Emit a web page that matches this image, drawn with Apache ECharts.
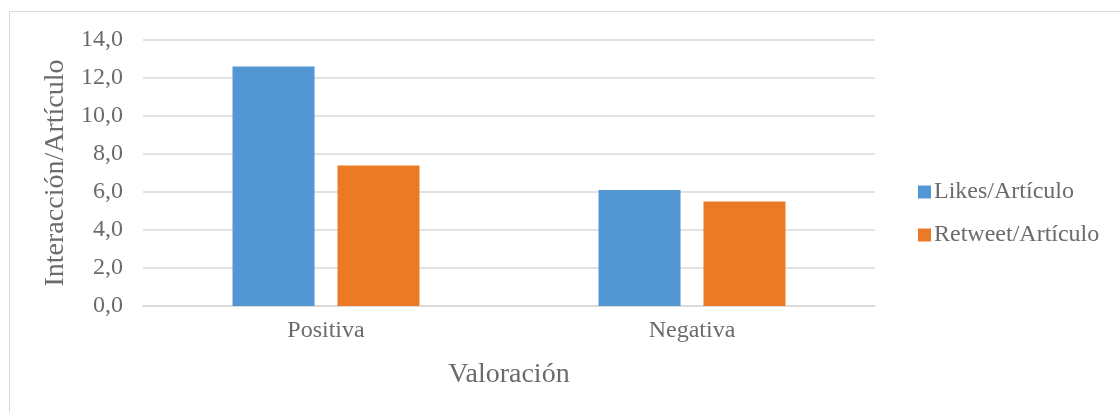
<!DOCTYPE html>
<html>
<head>
<meta charset="utf-8">
<script src="https://cdn.jsdelivr.net/npm/echarts@6/dist/echarts.min.js"></script>
<style>
  html, body { margin: 0; padding: 0; background: #fff; }
  #chart { width: 1120px; height: 412px; }
</style>
</head>
<body>
<div id="chart"></div>
<script>
  // datos
  var categorias = ['Positiva', 'Negativa'];
  var likes = [12.6, 6.1];
  var retweets = [7.4, 5.5];
  var nombres = ['Likes/Artículo', 'Retweet/Artículo'];

  var fuente = '"Liberation Serif", "Times New Roman", serif';
  var gris = '#6b6b6b';

  var myChart = echarts.init(document.getElementById('chart'));
  var option = {
    animation: false,
    textStyle: { fontFamily: fuente },
    graphic: [{
      type: 'rect',
      shape: { x: 9.5, y: 11.5, width: 1200, height: 500 },
      style: { fill: 'none', stroke: '#d9d9d9', lineWidth: 1 },
      silent: true
    }],
    grid: { left: 143, right: 245, top: 40, bottom: 106 },
    legend: {
      orient: 'vertical',
      left: 913,
      top: 175,
      itemWidth: 13,
      itemHeight: 13,
      itemGap: 19,
      icon: 'rect',
      textStyle: { fontFamily: fuente, fontSize: 24, color: gris, padding: [0, 0, 0, -2] },
      data: nombres
    },
    xAxis: {
      type: 'category',
      data: categorias,
      name: 'Valoración',
      nameLocation: 'middle',
      nameGap: 55,
      nameTextStyle: { fontFamily: fuente, fontSize: 28, color: gris },
      axisLine: { lineStyle: { color: '#d9d9d9', width: 1.5 } },
      axisTick: { show: false },
      axisLabel: { fontFamily: fuente, fontSize: 24, color: gris, margin: 13 }
    },
    yAxis: {
      type: 'value',
      min: 0,
      max: 14,
      interval: 2,
      name: 'Interacción/Artículo',
      nameLocation: 'middle',
      nameGap: 61,
      nameTextStyle: { fontFamily: fuente, fontSize: 28, color: gris },
      axisLine: { show: false },
      axisTick: { show: false },
      axisLabel: {
        fontFamily: fuente, fontSize: 24, color: gris, margin: 20,
        formatter: function (v) { return v.toFixed(1).replace('.', ','); }
      },
      splitLine: { lineStyle: { color: '#d9d9d9', width: 1.5 } }
    },
    series: [
      {
        name: nombres[0],
        type: 'bar',
        data: likes,
        barWidth: 82,
        barGap: '28%',
        itemStyle: { color: '#5296d4' }
      },
      {
        name: nombres[1],
        type: 'bar',
        data: retweets,
        barWidth: 82,
        itemStyle: { color: '#ea7a25' }
      }
    ]
  };

  option && myChart.setOption(option);
</script>
</body>
</html>
